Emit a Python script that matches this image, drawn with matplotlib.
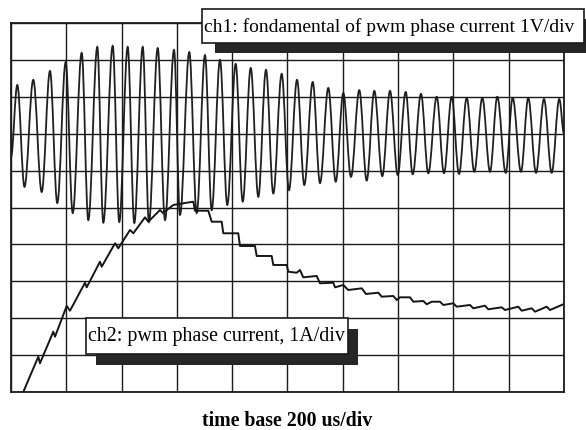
import numpy as np
import matplotlib
matplotlib.use('Agg')
from matplotlib import pyplot as plt
from matplotlib.path import Path
from matplotlib.patches import PathPatch, Rectangle

W, H = 586, 430  # output size in pixels

# ch1: fundamental, read as peaks / troughs (time in div, level in div from bottom)
ch1_peak_t = [0.114, 0.403, 0.705, 0.989, 1.278, 1.561, 1.839, 2.110, 2.382, 2.653,
              2.948, 3.224, 3.508, 3.779, 4.063, 4.335, 4.611, 4.895, 5.172, 5.456,
              5.738, 6.009, 6.298, 6.570, 6.854, 7.137, 7.414, 7.698, 7.969, 8.241,
              8.523, 8.794, 9.072, 9.354, 9.638, 9.915]
ch1_peak_v = [8.32, 8.46, 8.70, 8.94, 9.19, 9.35, 9.38, 9.35, 9.35, 9.32,
              9.27, 9.21, 9.13, 9.00, 8.89, 8.78, 8.73, 8.62, 8.46, 8.40,
              8.24, 8.10, 8.18, 8.16, 8.16, 8.13, 8.08, 8.00, 8.00, 7.97,
              7.97, 8.00, 7.97, 7.97, 7.94, 7.94]
ch1_trough_t = [0.244, 0.555, 0.837, 1.116, 1.398, 1.669, 1.958, 2.230, 2.495, 2.785,
                3.056, 3.358, 3.629, 3.911, 4.190, 4.472, 4.743, 5.027, 5.304, 5.588,
                5.872, 6.148, 6.432, 6.714, 6.993, 7.264, 7.546, 7.830, 8.101, 8.378,
                8.662, 8.946, 9.222, 9.494, 9.777]
ch1_trough_v = [5.56, 5.42, 5.12, 4.85, 4.66, 4.59, 4.61, 4.58, 4.61, 4.66,
                4.80, 4.85, 4.93, 5.07, 5.16, 5.29, 5.38, 5.47, 5.61, 5.66,
                5.70, 5.83, 5.73, 5.85, 5.88, 5.90, 5.93, 5.93, 5.91, 5.97,
                5.97, 5.94, 5.97, 5.94, 5.94]
ch1_start = (0.0, 6.37)
ch1_end = (10.0, 7.0)

# ch2: pwm phase current trace (time in div, level in div)
ch2_t = [0.222, 0.494, 0.524, 0.765, 0.796, 1.007, 1.067, 1.338, 1.369, 1.609,
         1.640, 1.881, 1.940, 2.152, 2.212, 2.423, 2.483, 2.694, 2.749, 2.935,
         3.146, 3.297, 3.327, 3.568, 3.629, 3.810, 3.839, 4.110, 4.141, 4.412,
         4.443, 4.714, 4.743, 4.986, 5.014, 5.166, 5.226, 5.285, 5.528, 5.588,
         5.828, 5.859, 6.009, 6.099, 6.342, 6.419, 6.642, 6.703, 6.913, 6.975,
         7.034, 7.215, 7.275, 7.456, 7.517, 7.608, 7.758, 7.817, 7.998, 8.060,
         8.300, 8.360, 8.571, 8.631, 8.873, 8.933, 9.174, 9.235, 9.416, 9.476,
         9.687, 9.747, 9.958, 10.0]
ch2_v = [0.0, 0.957, 0.778, 1.634, 1.499, 2.331, 2.203, 2.962, 2.837, 3.531,
         3.396, 4.030, 3.894, 4.390, 4.301, 4.734, 4.615, 4.932, 4.851, 5.068,
         5.122, 5.157, 4.913, 4.913, 4.615, 4.615, 4.301, 4.301, 3.957, 3.957,
         3.686, 3.686, 3.442, 3.442, 3.260, 3.233, 3.306, 3.108, 3.144, 2.946,
         2.962, 2.837, 2.900, 2.764, 2.810, 2.656, 2.691, 2.583, 2.602, 2.493,
         2.566, 2.566, 2.447, 2.466, 2.377, 2.447, 2.447, 2.358, 2.404, 2.312,
         2.358, 2.268, 2.339, 2.241, 2.295, 2.222, 2.312, 2.203, 2.268, 2.176,
         2.312, 2.222, 2.358, 2.385]

ch1_label = "ch1: fondamental of pwm phase current 1V/div"
ch2_label = "ch2: pwm phase current, 1A/div"
x_label = "time base 200 us/div"


def fx(px):
    return px / W


def fy(py):
    return 1 - py / H


fig = plt.figure(figsize=(W / 100, H / 100), dpi=100)
ax = fig.add_axes([fx(11), fy(392), fx(564) - fx(11), fy(23) - fy(392)])
ax.set_xlim(0, 10)
ax.set_ylim(0, 10)
ax.set_xticks(range(11))
ax.set_yticks(range(11))
ax.tick_params(length=0, labelbottom=False, labelleft=False)
ax.grid(True, color='#1a1a1a', linewidth=1.0)
for s in ax.spines.values():
    s.set_linewidth(1.3)
    s.set_color('#1a1a1a')

# ch1: extrema joined by half-sine shaped bezier segments
ext_t = np.append(np.column_stack([ch1_peak_t[:-1], ch1_trough_t]).ravel(), ch1_peak_t[-1])
ext_v = np.append(np.column_stack([ch1_peak_v[:-1], ch1_trough_v]).ravel(), ch1_peak_v[-1])
ext_t = np.concatenate([[ch1_start[0]], ext_t, [ch1_end[0]]])
ext_v = np.concatenate([[ch1_start[1]], ext_v, [ch1_end[1]]])

verts = [(ext_t[0], ext_v[0])]
codes = [Path.MOVETO]
for t0, v0, t1, v1 in zip(ext_t[:-1], ext_v[:-1], ext_t[1:], ext_v[1:]):
    h = t1 - t0
    verts += [(t0 + 0.364 * h, v0), (t1 - 0.364 * h, v1), (t1, v1)]
    codes += [Path.CURVE4] * 3
ax.add_patch(PathPatch(Path(verts, codes), fill=False, edgecolor='#202020', linewidth=1.3))

# ch2
ax.plot(ch2_t, ch2_v, color='#151515', linewidth=1.4)

# label boxes with dark drop shadow
def label_box(x0, y0, x1, y1, dx, dy, text, size):
    fig.patches.append(Rectangle((fx(x0 + dx), fy(y1 + dy)), fx(x1 - x0), fy(y0) - fy(y1),
                                 transform=fig.transFigure, facecolor='#262626',
                                 edgecolor='none', zorder=2))
    fig.patches.append(Rectangle((fx(x0), fy(y1)), fx(x1 - x0), fy(y0) - fy(y1),
                                 transform=fig.transFigure, facecolor='white',
                                 edgecolor='#1a1a1a', linewidth=1.2, zorder=3))
    fig.text(fx(x0 + 2), fy((y0 + y1) / 2 + 1), text, fontsize=size,
             family='Liberation Serif', va='center', ha='left', zorder=4)


label_box(202, 9, 584, 43, 13, 10, ch1_label, 14.0)
label_box(86, 318, 348, 354, 10, 11, ch2_label, 14.4)

fig.text(fx(287), fy(421), x_label, fontsize=14.2, family='Liberation Serif',
         fontweight='bold', ha='center', va='center')

fig.savefig('out.png', dpi=100)
